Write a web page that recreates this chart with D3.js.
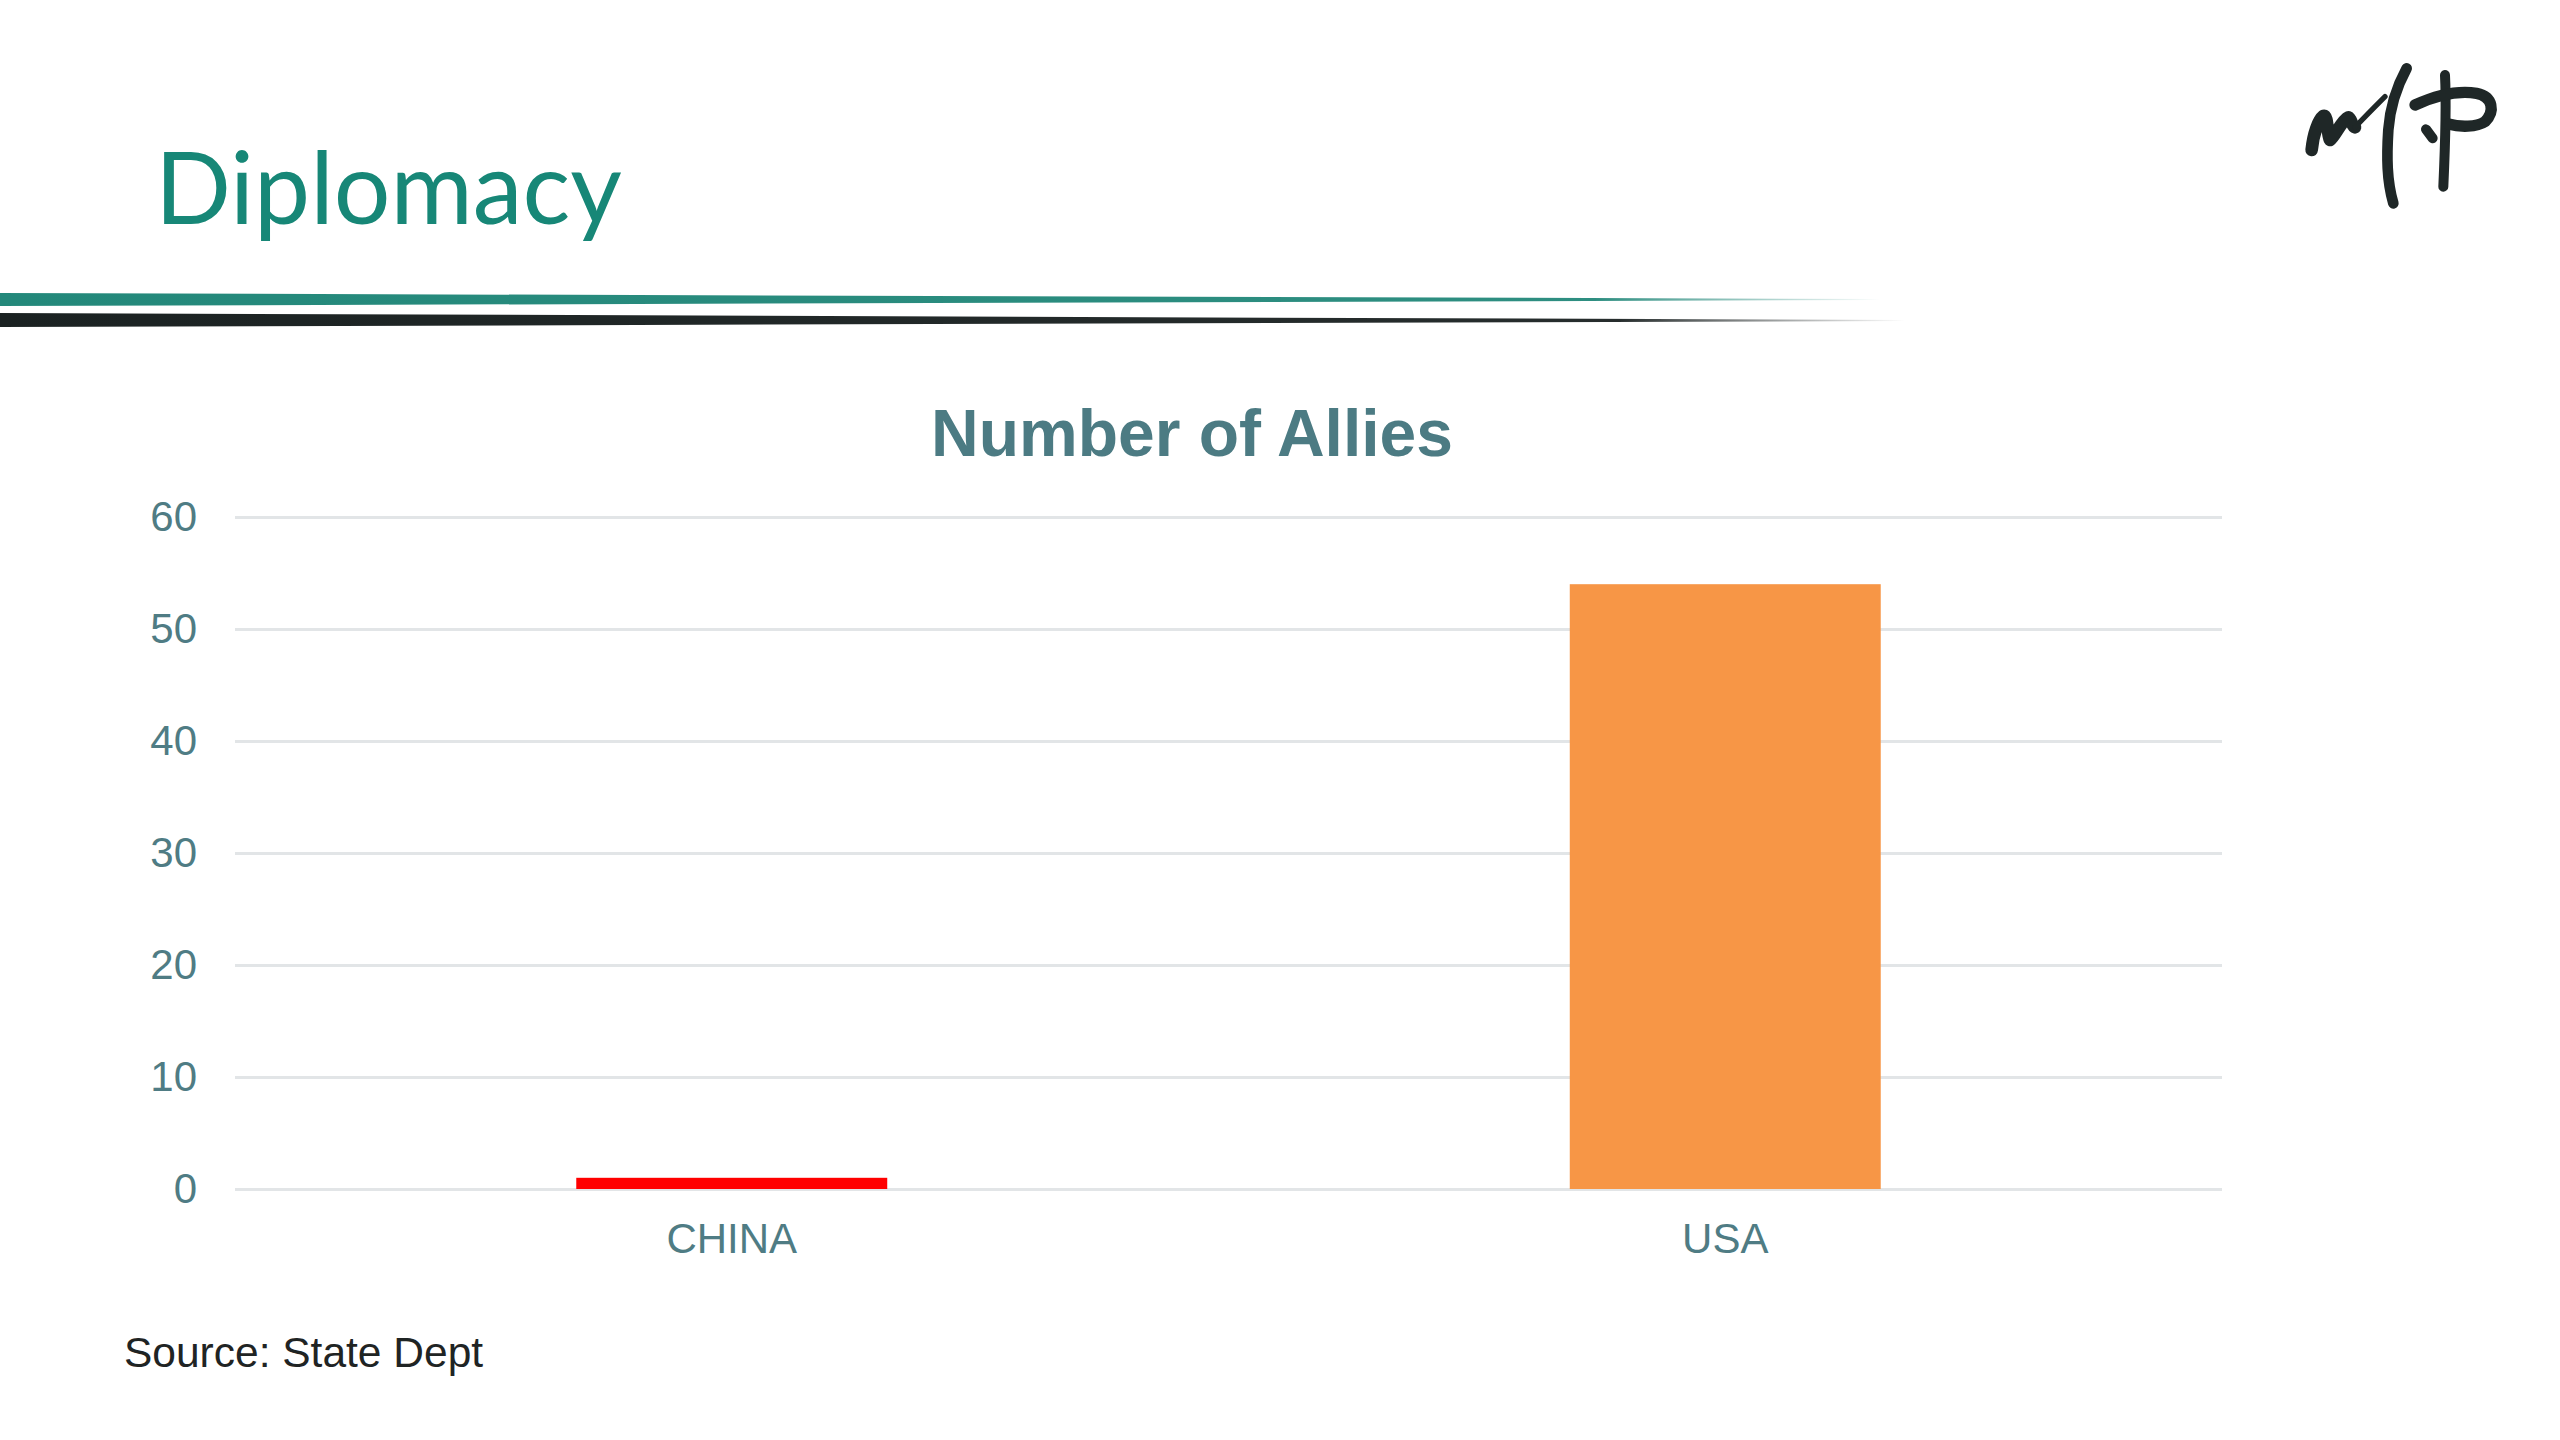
<!DOCTYPE html>
<html>
<head>
<meta charset="utf-8">
<script src="https://cdn.jsdelivr.net/npm/d3@7"></script>
<style>
  html, body { margin: 0; padding: 0; background: #ffffff; }
  svg { display: block; }
</style>
</head>
<body>
<svg id="chart" width="2560" height="1440"></svg>
<script>
// ---- data ----
const categories = ["CHINA", "USA"];
const allies = [1, 54];
const barColors = ["#ff0000", "#f79646"];
const yTicks = [0, 10, 20, 30, 40, 50, 60];
const pageTitle = "Diplomacy";
const chartTitle = "Number of Allies";
const sourceNote = "Source: State Dept";

// ---- layout ----
const W = 2560, H = 1440;
const plot = { left: 235, right: 2222, top: 517, bottom: 1189 };
const svg = d3.select("#chart");
const axisColor = "#4f7c84";

svg.append("rect").attr("width", W).attr("height", H).attr("fill", "#ffffff");

// page title
const t = svg.append("text")
  .attr("x", 155).attr("y", 224)
  .attr("font-family", "Lato, 'Open Sans', sans-serif")
  .attr("font-size", 110)
  .attr("fill", "#178777")
  .text(pageTitle);
const tw = t.node().getComputedTextLength();
t.attr("font-size", 110 * 467 / tw);

// decorative tapered lines
const defs = svg.append("defs");
function fadeGrad(id, color, x2) {
  const g = defs.append("linearGradient").attr("id", id)
    .attr("gradientUnits", "userSpaceOnUse")
    .attr("x1", 0).attr("y1", 0).attr("x2", x2).attr("y2", 0);
  g.append("stop").attr("offset", "0%").attr("stop-color", color).attr("stop-opacity", 1);
  g.append("stop").attr("offset", "85%").attr("stop-color", color).attr("stop-opacity", 0.95);
  g.append("stop").attr("offset", "100%").attr("stop-color", color).attr("stop-opacity", 0);
}
fadeGrad("gTeal", "#23887a", 1880);
fadeGrad("gBlack", "#1b2222", 1905);
svg.append("path")
  .attr("d", "M0,293 L1880,299 L1880,300 L0,306 Z")
  .attr("fill", "url(#gTeal)");
svg.append("path")
  .attr("d", "M0,313 L1905,320 L1905,321 L0,327 Z")
  .attr("fill", "url(#gBlack)");

// logo (brush strokes)
const logo = svg.append("g")
  .attr("transform", "translate(2280,40) scale(0.3333)")
  .attr("fill", "none").attr("stroke", "#1f2727")
  .attr("stroke-linecap", "round").attr("stroke-linejoin", "round");
logo.append("path").attr("stroke-width", 38)
  .attr("d", "M95,330 C100,280 115,240 130,228 C145,225 140,280 150,300 C165,290 185,240 205,232 C215,235 215,260 225,262");
logo.append("path").attr("stroke-width", 16)
  .attr("d", "M225,262 C250,235 285,200 315,170");
logo.append("path").attr("stroke-width", 32)
  .attr("d", "M380,85 C350,140 330,200 325,270 C320,350 320,420 340,490");
logo.append("path").attr("stroke-width", 30)
  .attr("d", "M438,268 L458,295");
logo.append("path").attr("stroke-width", 30)
  .attr("d", "M495,105 C500,200 495,330 490,440");
logo.append("path").attr("stroke-width", 34)
  .attr("d", "M405,195 C460,170 530,150 590,160 C640,170 645,215 615,245 C590,262 540,262 505,252");

// chart title
svg.append("text")
  .attr("x", 1192).attr("y", 456)
  .attr("text-anchor", "middle")
  .attr("font-family", "Arial, 'Liberation Sans', sans-serif")
  .attr("font-weight", "bold")
  .attr("font-size", 66)
  .attr("fill", "#4c7b83")
  .text(chartTitle);

// scales
const x = d3.scaleBand()
  .domain(categories)
  .range([plot.left, plot.right])
  .paddingInner(0.687)
  .paddingOuter(0.687 / 2);
const y = d3.scaleLinear().domain([0, 60]).range([plot.bottom, plot.top]);

// y axis with gridlines
const yAxis = svg.append("g")
  .attr("transform", `translate(${plot.left},0)`)
  .call(d3.axisLeft(y).tickValues(yTicks)
    .tickSize(-(plot.right - plot.left)).tickPadding(38));
yAxis.select(".domain").remove();
yAxis.selectAll(".tick line").attr("stroke", "#e2e5e7").attr("stroke-width", 3);
yAxis.selectAll(".tick text")
  .attr("font-family", "Arial, 'Liberation Sans', sans-serif")
  .attr("font-size", 42).attr("fill", axisColor);

// bars
svg.append("g").selectAll("rect")
  .data(categories)
  .join("rect")
  .attr("x", d => x(d))
  .attr("width", x.bandwidth())
  .attr("y", (d, i) => y(allies[i]))
  .attr("height", (d, i) => y(0) - y(allies[i]))
  .attr("fill", (d, i) => barColors[i]);

// x axis labels
const xAxis = svg.append("g")
  .attr("transform", `translate(0,${plot.bottom})`)
  .call(d3.axisBottom(x).tickSize(0).tickPadding(34));
xAxis.select(".domain").remove();
xAxis.selectAll(".tick text")
  .attr("font-family", "Arial, 'Liberation Sans', sans-serif")
  .attr("font-size", 42).attr("fill", axisColor);

// source note
svg.append("text")
  .attr("x", 124).attr("y", 1367)
  .attr("font-family", "Arial, 'Liberation Sans', sans-serif")
  .attr("font-size", 42.5)
  .attr("fill", "#1f2424")
  .text(sourceNote);
</script>
</body>
</html>
